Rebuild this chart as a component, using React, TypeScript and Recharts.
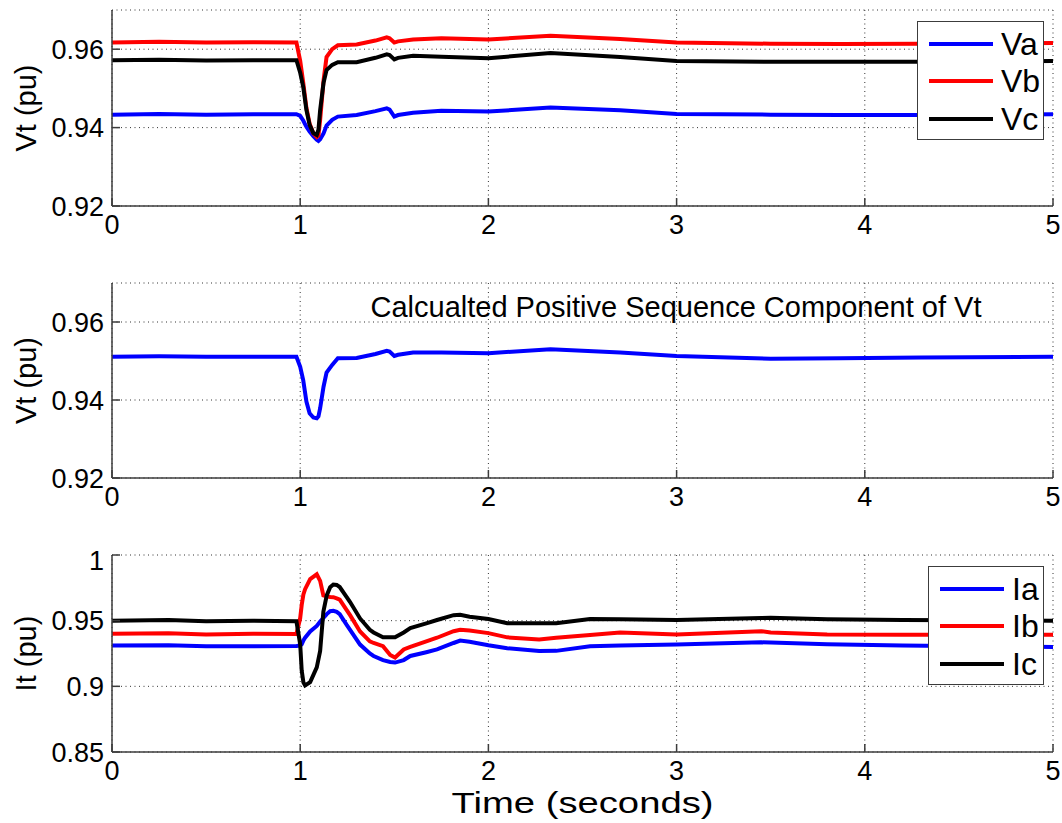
import React from "react";
import { CartesianGrid, Legend, Line, LineChart, XAxis, YAxis } from "recharts";

// time axis (seconds) for the two voltage panels
const vTime = [0, 0.25, 0.5, 0.75, 0.98, 1.0, 1.016, 1.033, 1.05, 1.07, 1.088, 1.097, 1.106, 1.124, 1.14, 1.17, 1.2, 1.3, 1.4, 1.46, 1.475, 1.5, 1.52, 1.6, 1.75, 2.0, 2.33, 2.7, 3.0, 3.5, 3.87, 4.3, 5.0];
const vaValues = [0.9433, 0.9435, 0.9433, 0.9434, 0.9434, 0.943, 0.9418, 0.9402, 0.939, 0.9378, 0.9369, 0.9366, 0.937, 0.9385, 0.9405, 0.942, 0.9428, 0.9432, 0.9442, 0.9449, 0.9446, 0.9428, 0.9432, 0.9438, 0.9443, 0.9441, 0.9451, 0.9444, 0.9435, 0.9433, 0.9432, 0.9432, 0.9434];
const vbValues = [0.9617, 0.9619, 0.9617, 0.9618, 0.9617, 0.957, 0.9515, 0.945, 0.941, 0.9385, 0.9376, 0.938, 0.942, 0.952, 0.958, 0.96, 0.961, 0.9612, 0.9622, 0.963, 0.9628, 0.9617, 0.962, 0.9625, 0.9628, 0.9625, 0.9634, 0.9626, 0.9617, 0.9614, 0.9613, 0.9614, 0.9616];
const vcValues = [0.9572, 0.9573, 0.9571, 0.9572, 0.9572, 0.954, 0.9504, 0.9445, 0.9407, 0.9386, 0.9381, 0.9395, 0.9445, 0.9514, 0.9547, 0.956, 0.9567, 0.9567, 0.9578, 0.9587, 0.9585, 0.9574, 0.9578, 0.9583, 0.9581, 0.9577, 0.959, 0.958, 0.957, 0.9568, 0.9568, 0.9568, 0.957];
const v1Values = [0.9511, 0.9512, 0.9511, 0.9511, 0.9511, 0.9485, 0.9451, 0.9396, 0.9366, 0.9355, 0.9353, 0.9358, 0.9379, 0.9434, 0.947, 0.949, 0.9507, 0.9508, 0.9518, 0.9526, 0.9524, 0.9513, 0.9516, 0.9522, 0.9522, 0.952, 0.953, 0.9522, 0.9513, 0.9506, 0.9507, 0.9509, 0.9511];

// time axis for the current panel
const iTime = [0, 0.3, 0.5, 0.75, 0.98, 1.0, 1.008, 1.017, 1.026, 1.053, 1.088, 1.106, 1.123, 1.141, 1.159, 1.176, 1.194, 1.21, 1.247, 1.265, 1.318, 1.37, 1.39, 1.44, 1.478, 1.504, 1.55, 1.585, 1.67, 1.727, 1.815, 1.85, 1.9, 2.0, 2.1, 2.27, 2.36, 2.54, 2.7, 3.0, 3.45, 3.5, 3.8, 4.2, 5.0];
const iaValues = [0.931, 0.9312, 0.9305, 0.9306, 0.9308, 0.931, 0.932, 0.935, 0.937, 0.9418, 0.946, 0.9493, 0.952, 0.955, 0.9572, 0.9575, 0.9567, 0.955, 0.9468, 0.943, 0.9318, 0.925, 0.9231, 0.92, 0.9185, 0.9181, 0.92, 0.9231, 0.926, 0.9281, 0.933, 0.9348, 0.934, 0.9313, 0.929, 0.9269, 0.927, 0.9306, 0.931, 0.9318, 0.9335, 0.9333, 0.932, 0.931, 0.930];
const ibValues = [0.94, 0.9405, 0.9395, 0.94, 0.9398, 0.952, 0.962, 0.97, 0.974, 0.9816, 0.9853, 0.9803, 0.9692, 0.9685, 0.968, 0.9679, 0.967, 0.966, 0.958, 0.9542, 0.9418, 0.9343, 0.933, 0.9306, 0.9239, 0.9219, 0.9281, 0.93, 0.9343, 0.937, 0.942, 0.943, 0.9425, 0.9405, 0.9373, 0.9356, 0.937, 0.939, 0.941, 0.9395, 0.942, 0.941, 0.9395, 0.9393, 0.9393];
const icValues = [0.95, 0.9505, 0.9495, 0.95, 0.9495, 0.932, 0.912, 0.903, 0.9007, 0.9032, 0.9144, 0.9269, 0.9567, 0.9692, 0.9755, 0.9775, 0.9772, 0.9756, 0.968, 0.9642, 0.9517, 0.943, 0.941, 0.9373, 0.9373, 0.9373, 0.941, 0.9443, 0.948, 0.9505, 0.9542, 0.9545, 0.953, 0.9513, 0.948, 0.948, 0.948, 0.9513, 0.951, 0.9505, 0.952, 0.9522, 0.951, 0.9505, 0.95];

const xTicks = [0, 1, 2, 3, 4, 5];
const vTicks = [0.92, 0.94, 0.96];
const iTicks = [0.85, 0.9, 0.95, 1];

const vData = vTime.map((t, i) => ({ t, va: vaValues[i], vb: vbValues[i], vc: vcValues[i], v1: v1Values[i] }));
const iData = iTime.map((t, i) => ({ t, ia: iaValues[i], ib: ibValues[i], ic: icValues[i] }));

const FONT = "'Liberation Sans', Arial, Helvetica, sans-serif";
const AXIS = "#3c3c3c";
const tickStyle = { fontSize: 27, fill: "#000", fontFamily: FONT };

function YTitle({ viewBox, text }: any) {
  const x = 26;
  const y = viewBox.y + viewBox.height / 2;
  return (
    <text x={x} y={y} transform={`rotate(-90 ${x} ${y})`} textAnchor="middle" dominantBaseline="central" fontSize={29} fontFamily={FONT} fill="#000">
      {text}
    </text>
  );
}

// bottom axis title ("Time (seconds)"), stretched like the source figure
function XTitle({ viewBox }: any) {
  return (
    <text x={viewBox.x + viewBox.width / 2} y={viewBox.y + 50} textAnchor="middle" dominantBaseline="central" fontSize={30}
      textLength={262} lengthAdjust="spacingAndGlyphs" fontFamily={FONT} fill="#000">
      Time (seconds)
    </text>
  );
}

// text inside the middle panel, anchored off the bottom axis
function PanelTitle({ viewBox }: any) {
  return (
    <text x={676} y={viewBox.y - 171} textAnchor="middle" dominantBaseline="central" fontSize={29} fontFamily={FONT} fill="#000">
      Calcualted Positive Sequence Component of Vt
    </text>
  );
}

function LegendBox({ payload, width }: any) {
  return (
    <div style={{ width, height: 119, boxSizing: "border-box", border: `1.5px solid ${AXIS}`, background: "#fff", paddingTop: 3 }}>
      {(payload || []).map((item: any) => (
        <div key={item.value} style={{ height: 37.5, display: "flex", alignItems: "center" }}>
          <span style={{ marginLeft: 11, width: 64, height: 4, background: item.color }} />
          <span style={{ marginLeft: 8, fontSize: 32, fontFamily: FONT, color: "#000", lineHeight: 1 }}>{item.value}</span>
        </div>
      ))}
    </div>
  );
}

function Frame({ yTicks, domain, yLabel, xHeight, xLabel }: any) {
  return [
    <CartesianGrid key="g" stroke="#333" strokeDasharray="1 3.5" strokeWidth={1} />,
    <XAxis key="xb" xAxisId={0} dataKey="t" type="number" domain={[0, 5]} ticks={xTicks} height={xHeight} allowDataOverflow
      stroke={AXIS} strokeWidth={1.5} tickSize={-8} tickMargin={17} tick={tickStyle} label={xLabel} />,
    <XAxis key="xt" xAxisId="top" orientation="top" dataKey="t" type="number" domain={[0, 5]} ticks={xTicks} height={0}
      stroke={AXIS} strokeWidth={1.5} tickSize={-8} tickFormatter={() => ""} />,
    <YAxis key="yl" yAxisId={0} type="number" domain={domain} ticks={yTicks} width={112} allowDataOverflow
      stroke={AXIS} strokeWidth={1.5} tickSize={-8} tickMargin={16} tick={tickStyle} label={<YTitle text={yLabel} />} />,
    <YAxis key="yr" yAxisId="r" orientation="right" type="number" domain={domain} ticks={yTicks} width={0} allowDataOverflow
      stroke={AXIS} strokeWidth={1.5} tickSize={-8} tickFormatter={() => ""} />,
  ];
}

export default function App() {
  const common = { width: 1062, margin: { top: 10, right: 9, bottom: 0, left: 0 } };
  return (
    <div style={{ position: "absolute", left: 0, top: 0, width: 1062, height: 823, background: "#fff" }}>
      <div style={{ position: "absolute", left: 0, top: 0 }}>
        <LineChart {...common} height={252} data={vData}>
          {Frame({ yTicks: vTicks, domain: [0.92, 0.97], yLabel: "Vt (pu)", xHeight: 46 })}
          <Line dataKey="va" name="Va" stroke="#0000ff" strokeWidth={4} dot={false} isAnimationActive={false} />
          <Line dataKey="vb" name="Vb" stroke="#ff0000" strokeWidth={4} dot={false} isAnimationActive={false} />
          <Line dataKey="vc" name="Vc" stroke="#000000" strokeWidth={4} dot={false} isAnimationActive={false} />
          <Legend layout="vertical" align="center" verticalAlign="middle" content={<LegendBox width={127} />}
            wrapperStyle={{ position: "absolute", left: 917, top: 21, width: 127, height: 119 }} />
        </LineChart>
      </div>
      <div style={{ position: "absolute", left: 0, top: 273 }}>
        <LineChart {...common} height={251} data={vData}>
          {Frame({ yTicks: vTicks, domain: [0.92, 0.97], yLabel: "Vt (pu)", xHeight: 46, xLabel: <PanelTitle /> })}
          <Line dataKey="v1" name="V1" stroke="#0000ff" strokeWidth={4} dot={false} isAnimationActive={false} />
        </LineChart>
      </div>
      <div style={{ position: "absolute", left: 0, top: 545 }}>
        <LineChart {...common} height={277} data={iData}>
          {Frame({ yTicks: iTicks, domain: [0.85, 1], yLabel: "It (pu)", xHeight: 70, xLabel: <XTitle /> })}
          <Line dataKey="ia" name="Ia" stroke="#0000ff" strokeWidth={4} dot={false} isAnimationActive={false} />
          <Line dataKey="ib" name="Ib" stroke="#ff0000" strokeWidth={4} dot={false} isAnimationActive={false} />
          <Line dataKey="ic" name="Ic" stroke="#000000" strokeWidth={4} dot={false} isAnimationActive={false} />
          <Legend layout="vertical" align="center" verticalAlign="middle" content={<LegendBox width={116} />}
            wrapperStyle={{ position: "absolute", left: 928, top: 21, width: 116, height: 119 }} />
        </LineChart>
      </div>
    </div>
  );
}
